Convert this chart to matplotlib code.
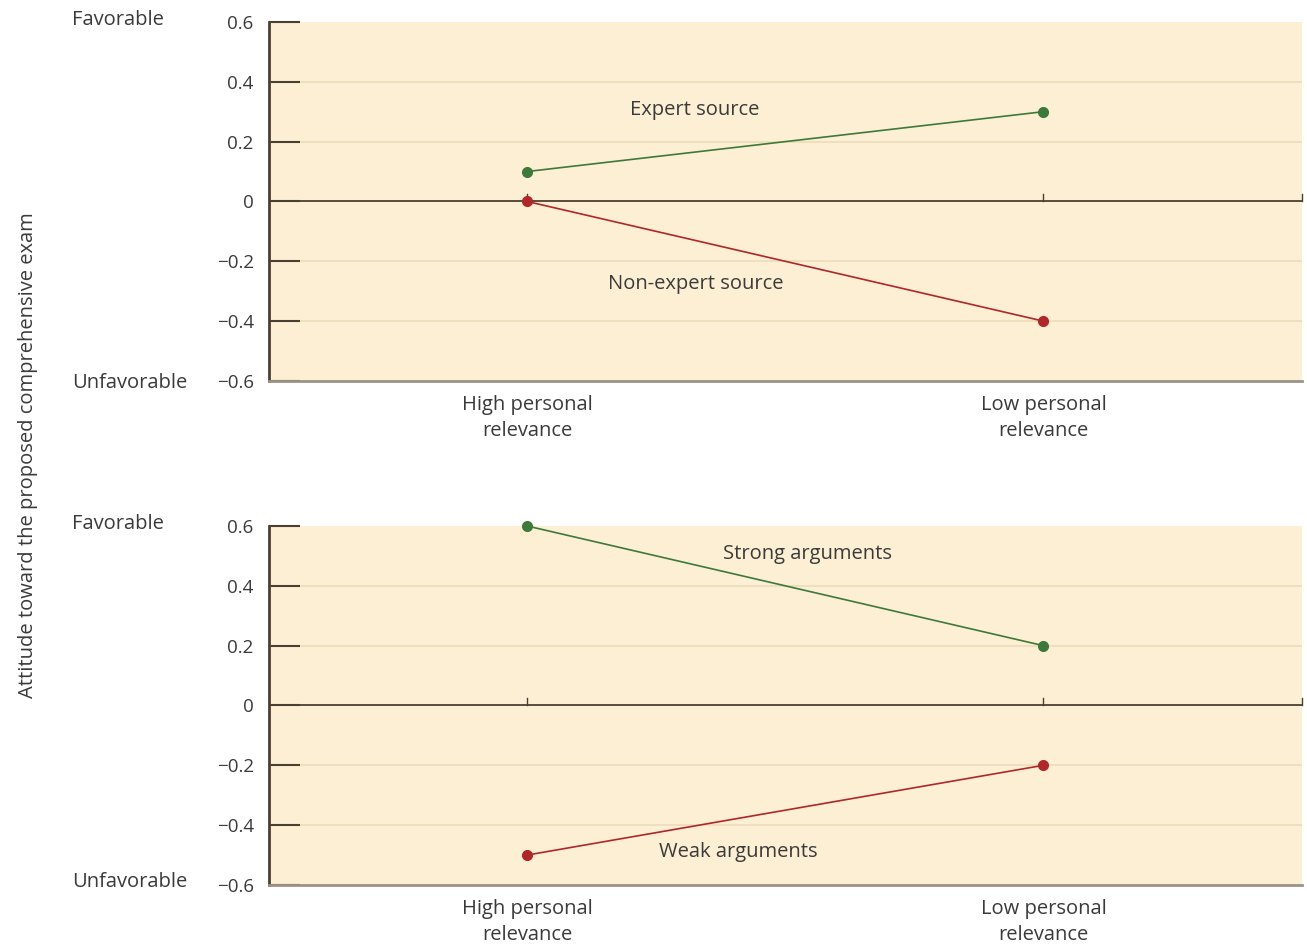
import matplotlib.pyplot as plt

# Data
categories = ["High personal\nrelevance", "Low personal\nrelevance"]
expert = [0.1, 0.3]
non_expert = [0.0, -0.4]
strong = [0.6, 0.2]
weak = [-0.5, -0.2]
yticks = [-0.6, -0.4, -0.2, 0, 0.2, 0.4, 0.6]
ytick_labels = ["\u22120.6", "\u22120.4", "\u22120.2", "0", "0.2", "0.4", "0.6"]

green = "#3d7a3a"
red = "#b0272a"
bg = "#fdefd3"
brown = "#4a3f33"
text_col = "#3a3a3a"
fs = 14.5

plt.rcParams['font.family'] = ['Open Sans', 'DejaVu Sans']

fig = plt.figure(figsize=(13.07, 9.46), dpi=100)
ax_top = fig.add_axes([0.2058, 0.5973, 0.790, 0.3795])
ax_bot = fig.add_axes([0.2058, 0.0645, 0.790, 0.3795])


def style_axes(ax):
    ax.set_facecolor(bg)
    ax.set_xlim(-0.5, 1.5)
    ax.set_ylim(-0.6, 0.6)
    ax.set_yticks(yticks)
    ax.set_yticklabels(ytick_labels, fontsize=13.5, color=text_col)
    ax.set_xticks([0, 1])
    ax.set_xticklabels(categories, fontsize=fs, color=text_col, linespacing=1.4)
    ax.tick_params(axis='y', direction='in', length=22, width=1.5, color=brown, pad=11)
    ax.tick_params(axis='x', length=0, pad=10)
    for yv in yticks[1:-1]:
        if yv != 0:
            ax.axhline(yv, color="#ecdcb9", lw=1.2, zorder=1)
    ax.axhline(0, color=brown, lw=1.3, zorder=2)
    for xv in [0, 1, 1.5]:
        ax.plot([xv, xv], [0, 0.025], color=brown, lw=1, zorder=2, clip_on=False)
    for side in ['top', 'right']:
        ax.spines[side].set_visible(False)
    ax.spines['left'].set_color(brown)
    ax.spines['left'].set_linewidth(2)
    ax.spines['bottom'].set_color("#9c9286")
    ax.spines['bottom'].set_linewidth(2)


style_axes(ax_top)
style_axes(ax_bot)

x = [0, 1]
ax_top.plot(x, expert, color=green, lw=1.2, marker='o', ms=7, zorder=3)
ax_top.plot(x, non_expert, color=red, lw=1.2, marker='o', ms=7, zorder=3)
ax_top.text(0.325, 0.306, "Expert source", ha='center', va='center', fontsize=fs, color=text_col)
ax_top.text(0.327, -0.276, "Non-expert source", ha='center', va='center', fontsize=fs, color=text_col)

ax_bot.plot(x, strong, color=green, lw=1.2, marker='o', ms=7, zorder=3, clip_on=False)
ax_bot.plot(x, weak, color=red, lw=1.2, marker='o', ms=7, zorder=3)
ax_bot.text(0.544, 0.506, "Strong arguments", ha='center', va='center', fontsize=fs, color=text_col)
ax_bot.text(0.41, -0.49, "Weak arguments", ha='center', va='center', fontsize=fs, color=text_col)

# Favorable / Unfavorable side labels
for ytop, ybot in [(20 / 946, 383 / 946), (524 / 946, 882 / 946)]:
    fig.text(72 / 1307, 1 - ytop, "Favorable", ha='left', va='center', fontsize=fs, color=text_col)
    fig.text(72 / 1307, 1 - ybot, "Unfavorable", ha='left', va='center', fontsize=fs, color=text_col)

fig.text(28 / 1307, 1 - 455 / 946, "Attitude toward the proposed comprehensive exam",
         rotation=90, ha='center', va='center', fontsize=fs, color=text_col)

fig.savefig("out.png", dpi=100, facecolor='white')
